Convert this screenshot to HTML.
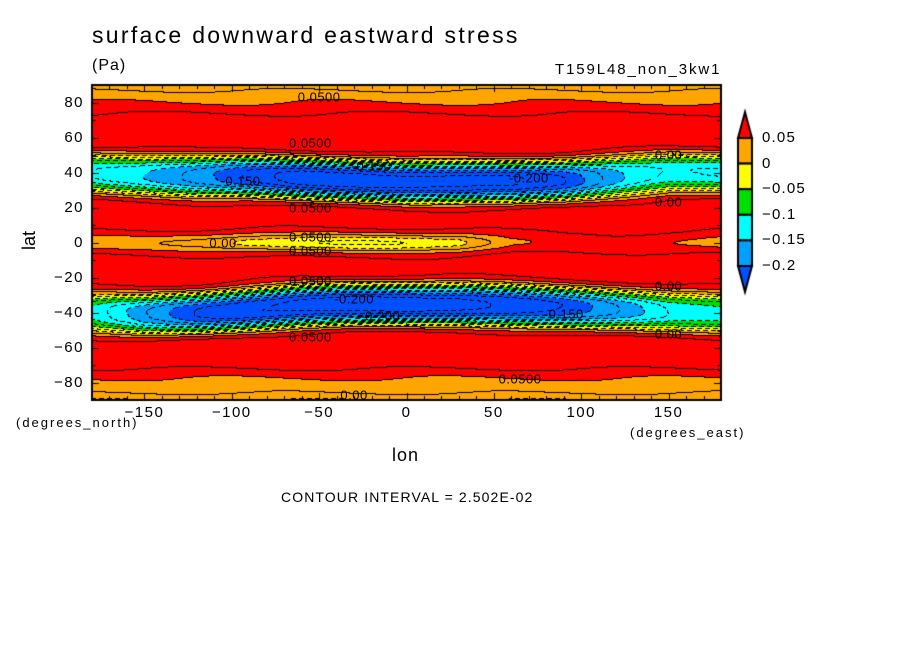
<!DOCTYPE html>
<html><head><meta charset="utf-8">
<style>
body{margin:0;background:#fff;width:904px;height:654px;position:relative;overflow:hidden;font-family:"Liberation Sans",sans-serif;}
.t{position:absolute;white-space:nowrap;color:#000;}
.cl{position:absolute;white-space:nowrap;font-size:13px;color:#000;transform:translate(-50%,-50%);letter-spacing:0.5px;}
</style></head>
<body>
<div class="t" style="left:92px;top:22px;font-size:23px;letter-spacing:2.3px;">surface downward eastward stress</div>
<div class="t" style="left:92px;top:57px;font-size:16px;letter-spacing:1px;">(Pa)</div>
<div class="t" style="left:555px;top:61px;font-size:15px;letter-spacing:1.9px;">T159L48_non_3kw1</div>
<canvas id="cv" width="904" height="654" style="position:absolute;left:0;top:0"></canvas>
<div id="labels"></div>
<div class="t" style="left:20px;top:230px;font-size:18px;transform:rotate(-90deg);">lat</div>
<div class="t" style="left:392px;top:445px;font-size:18px;letter-spacing:1px;">lon</div>
<div class="t" style="left:16px;top:415px;font-size:13px;letter-spacing:2px;">(degrees_north)</div>
<div class="t" style="left:630px;top:425px;font-size:13px;letter-spacing:2px;">(degrees_east)</div>
<div class="t" style="left:281px;top:489px;font-size:14px;letter-spacing:1.1px;">CONTOUR INTERVAL = 2.502E-02</div>
<script>
const lonNodes=[-180,-150,-120,-90,-60,-30,0,30,60,90,120,150,180];
const nhAmp=[0.21,0.24,0.28,0.32,0.35,0.35,0.35,0.35,0.34,0.31,0.25,0.21,0.21];
const nhLat=[40,39,38,38,37,36,35,35,35,36,38,40,40];
const shAmp=[0.2,0.26,0.31,0.34,0.35,0.35,0.35,0.35,0.34,0.31,0.26,0.21,0.2];
const shLat=[-40,-41,-40,-38,-36,-35,-35,-35,-36,-37,-38,-39,-40];
const eqDip=[0.05,0.05,0.07,0.1,0.105,0.11,0.11,0.1,0.04,0.02,0.02,0.04,0.05];
const latNodes=[90,85,80,75,70,60,0,-60,-70,-75,-80,-85,-90];
const bgVals=[0.01,0.035,0.05,0.07,0.09,0.09,0.085,0.09,0.085,0.06,0.04,0.03,0.0];
const colorLevels=[0.05,0,-0.05,-0.1,-0.15,-0.2];
const colorbarLabels=["0.05","0","-0.05","-0.1","-0.15","-0.2"];
const xTicks=[-150,-100,-50,0,50,100,150];
const yTicks=[80,60,40,20,0,-20,-40,-60,-80];
const contourLabels=[["0.0500",-50,83],["0.0500",-55,57],["-0.150",-20,44],["-0.200",70,37],["0.00",150,50],["0.00",150,23],
["-0.150",-95,35],["0.00",-105,0],["0.0500",-55,3],["0.0500",-55,-5],["0.0500",-55,-22],["-0.200",-30,-32],["-0.200",-15,-42],
["-0.150",90,-41],["0.00",150,-25],["0.00",150,-52],["0.0500",65,-78],["0.00",-30,-87],["0.0500",-55,20],["0.0500",-55,-54]];
const colors=["#0050ff","#00a0ff","#00ffff","#00e000","#ffff00","#ffa500","#ff0000"];
const X0=92,X1=721,Y0=85,Y1=400;
function xOf(lon){return X0+(lon+180)*(X1-X0)/360;}
function yOf(lat){return 242.7-lat*1.75;}
function interp(nodes,vals,v){
  if(nodes[0]>nodes[1]){for(let i=0;i<nodes.length-1;i++){if(v<=nodes[i]&&v>=nodes[i+1]){const t=(v-nodes[i])/(nodes[i+1]-nodes[i]);return vals[i]+t*(vals[i+1]-vals[i]);}}return vals[v>nodes[0]?0:vals.length-1];}
  for(let i=0;i<nodes.length-1;i++){if(v>=nodes[i]&&v<=nodes[i+1]){const t=(v-nodes[i])/(nodes[i+1]-nodes[i]);return vals[i]+t*(vals[i+1]-vals[i]);}}
  return vals[v<nodes[0]?0:vals.length-1];
}
function field(lon,lat){
  let f=interp(latNodes,bgVals,lat);
  const s=11;
  let d=Math.abs(lat-interp(lonNodes,nhLat,lon))/s;
  f-=interp(lonNodes,nhAmp,lon)*Math.exp(-d*d*d);
  d=Math.abs(lat-interp(lonNodes,shLat,lon))/s;
  f-=interp(lonNodes,shAmp,lon)*Math.exp(-d*d*d);
  const e=lat/5.5;
  f-=interp(lonNodes,eqDip,lon)*Math.exp(-e*e);
  f+=0.006*Math.sin(lon*0.05+lat*0.2);
  return f;
}
function colorIdx(f){let i=0;for(let k=colorLevels.length-1;k>=0;k--){if(f>colorLevels[k])i=colorLevels.length-k;}return i;}
const cv=document.getElementById('cv');const ctx=cv.getContext('2d');
const W=X1-X0,H=Y1-Y0;
const F=[];
for(let j=0;j<=H;j++){const row=[];const lat=(242.7-(Y0+j))/1.75;for(let i=0;i<=W;i++){const lon=i*360/(X1-X0)-180;row.push(field(lon,lat));}F.push(row);}
const img=ctx.createImageData(W,H);
function hex(c){return [parseInt(c.substr(1,2),16),parseInt(c.substr(3,2),16),parseInt(c.substr(5,2),16)];}
const rgb=colors.map(hex);
for(let j=0;j<H;j++)for(let i=0;i<W;i++){
  const f=F[j][i];let c=rgb[colorIdx(f)];
  const k=Math.floor(f/0.025),kr=Math.floor(F[j][i+1]/0.025),kd=Math.floor(F[j+1][i]/0.025);
  if(k!==kr||k!==kd){const neg=Math.min(k,kr,kd)<0;if(!neg||((i+j)%8)<5)c=[0,0,0];}
  const p=(j*W+i)*4;img.data[p]=c[0];img.data[p+1]=c[1];img.data[p+2]=c[2];img.data[p+3]=255;
}
ctx.putImageData(img,X0,Y0);
ctx.strokeStyle="#000";ctx.lineWidth=2;ctx.strokeRect(X0,Y0,W,H);
ctx.lineWidth=1;
for(let lon=-180;lon<=180;lon+=10){const x=Math.round(xOf(lon))+0.5;const L=lon%50===0?7:4;ctx.beginPath();ctx.moveTo(x,Y1);ctx.lineTo(x,Y1-L);ctx.moveTo(x,Y0);ctx.lineTo(x,Y0+L);ctx.stroke();}
for(let lat=-90;lat<=90;lat+=10){const y=Math.round(yOf(lat))+0.5;const L=lat%20===0?7:4;ctx.beginPath();ctx.moveTo(X0,y);ctx.lineTo(X0+L,y);ctx.moveTo(X1,y);ctx.lineTo(X1-L,y);ctx.stroke();}
const cbX=738,cbW=14,cbTop=138,cbStep=25.6;
ctx.lineWidth=2;
for(let k=0;k<5;k++){ctx.fillStyle=colors[5-k];ctx.fillRect(cbX,cbTop+k*cbStep,cbW,cbStep);ctx.strokeRect(cbX,cbTop+k*cbStep,cbW,cbStep);}
ctx.fillStyle=colors[6];ctx.beginPath();ctx.moveTo(cbX,cbTop);ctx.lineTo(cbX+cbW/2,112);ctx.lineTo(cbX+cbW,cbTop);ctx.closePath();ctx.fill();ctx.stroke();
const cbBot=cbTop+5*cbStep;
ctx.fillStyle=colors[0];ctx.beginPath();ctx.moveTo(cbX,cbBot);ctx.lineTo(cbX+cbW/2,292);ctx.lineTo(cbX+cbW,cbBot);ctx.closePath();ctx.fill();ctx.stroke();
const lab=document.getElementById('labels');
function addText(txt,x,y,cls,name,size){const d=document.createElement('div');d.className=cls;d.textContent=txt;d.style.left=x+'px';d.style.top=y+'px';if(size)d.style.fontSize=size+'px';


lab.appendChild(d);return d;}
colorbarLabels.forEach((t,k)=>{const d=addText(t.replace('-','\u2212'),762,cbTop+k*cbStep-9,'t','colorbar-label',15);d.style.letterSpacing='1.2px';});
xTicks.forEach(v=>{const d=addText(String(v).replace('-','\u2212'),xOf(v),404,'t','x-tick-label',15);d.style.transform='translateX(-50%)';d.style.letterSpacing='1.5px';});
yTicks.forEach(v=>{const d=addText(String(v).replace('-','\u2212'),84,yOf(v)-9,'t','y-tick-label',15);d.style.transform='translateX(-100%)';d.style.letterSpacing='1.5px';});
contourLabels.forEach(c=>{addText(c[0],xOf(c[1]),yOf(c[2]),'cl','contour-label');});
</script>
</body></html>
